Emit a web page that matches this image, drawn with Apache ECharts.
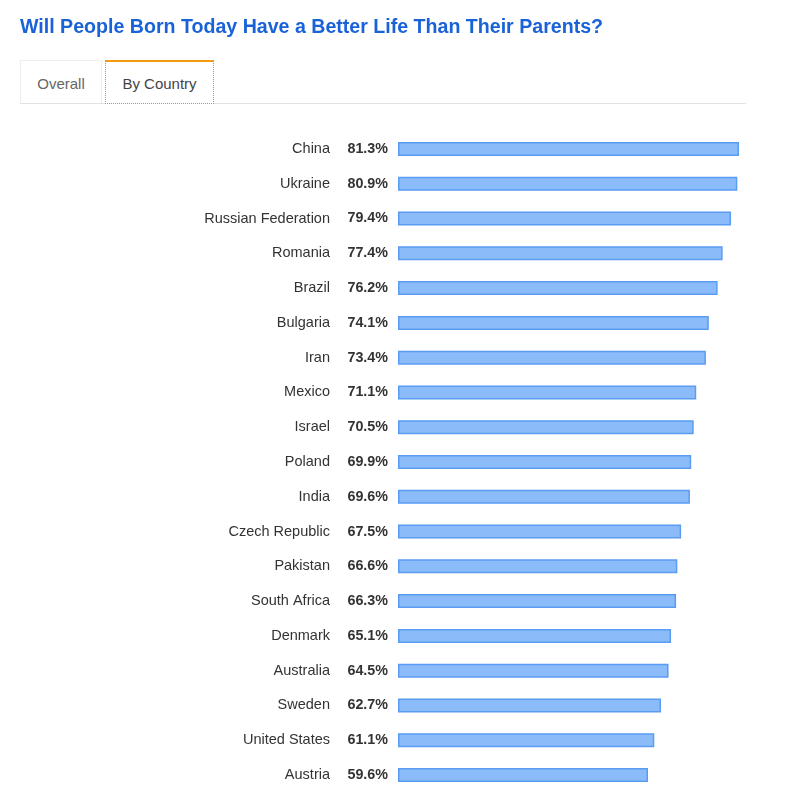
<!DOCTYPE html>
<html>
<head>
<meta charset="utf-8">
<script src="https://cdn.jsdelivr.net/npm/echarts@6/dist/echarts.min.js"></script>
<style>
  html, body { margin: 0; padding: 0; background: #fff; width: 800px; height: 795px; overflow: hidden; font-family: "Liberation Sans", Arial, sans-serif; }
  #chart { position: absolute; left: 0; top: 0; width: 800px; height: 795px; }
  #title { position: absolute; left: 20px; top: 15px; font-size: 19.6px; font-weight: bold; color: #1a62d8; white-space: nowrap; z-index: 2; }
  #tabline { position: absolute; left: 20px; top: 103px; width: 726px; height: 1px; background: #e2e2e2; z-index: 2; }
  .tab { position: absolute; top: 60px; height: 43px; box-sizing: border-box; font-size: 15px; line-height: 45px; text-align: center; z-index: 3; background: #fff; }
  #tab1 { left: 20px; width: 82px; border: 1px solid #eeeeee; border-bottom: none; color: #666; }
  #tab2 { left: 105px; width: 109px; border: 1px dotted #999; border-top: 2px solid #f39c12; color: #444; height: 44px; line-height: 44px; }
</style>
</head>
<body>
<div id="chart"></div>
<div id="title">Will People Born Today Have a Better Life Than Their Parents?</div>
<div id="tabline"></div>
<div class="tab" id="tab1">Overall</div>
<div class="tab" id="tab2">By Country</div>
<script>
const countries = ["China", "Ukraine", "Russian Federation", "Romania", "Brazil", "Bulgaria", "Iran", "Mexico", "Israel", "Poland", "India", "Czech Republic", "Pakistan", "South Africa", "Denmark", "Australia", "Sweden", "United States", "Austria"];
const values = [81.3, 80.9, 79.4, 77.4, 76.2, 74.1, 73.4, 71.1, 70.5, 69.9, 69.6, 67.5, 66.6, 66.3, 65.1, 64.5, 62.7, 61.1, 59.6];
const valueLabels = values.map(v => v.toFixed(1) + "%");

const chart = echarts.init(document.getElementById('chart'), null, { renderer: 'canvas' });
chart.setOption({
  animation: false,
  grid: { left: 398, right: 61, top: 131.6, bottom: 2.6 },
  xAxis: { type: 'value', min: 0, max: 'dataMax', show: false },
  yAxis: [
    {
      type: 'category', data: countries, inverse: true, position: 'left',
      axisLine: { show: false }, axisTick: { show: false }, splitLine: { show: false },
      axisLabel: { margin: 68, fontSize: 14.5, color: '#333', fontFamily: 'Liberation Sans' }
    },
    {
      type: 'category', data: valueLabels, inverse: true, position: 'left', offset: 0,
      axisLine: { show: false }, axisTick: { show: false }, splitLine: { show: false },
      axisLabel: { margin: 10, fontSize: 14.3, fontWeight: 'bold', color: '#333', fontFamily: 'Liberation Sans' }
    }
  ],
  series: [{
    type: 'bar', data: values, yAxisIndex: 0, barWidth: 14,
    itemStyle: { color: '#8bbcf9', borderColor: '#5a9cf2', borderWidth: 1.5 }
  }]
});
</script>
</body>
</html>
